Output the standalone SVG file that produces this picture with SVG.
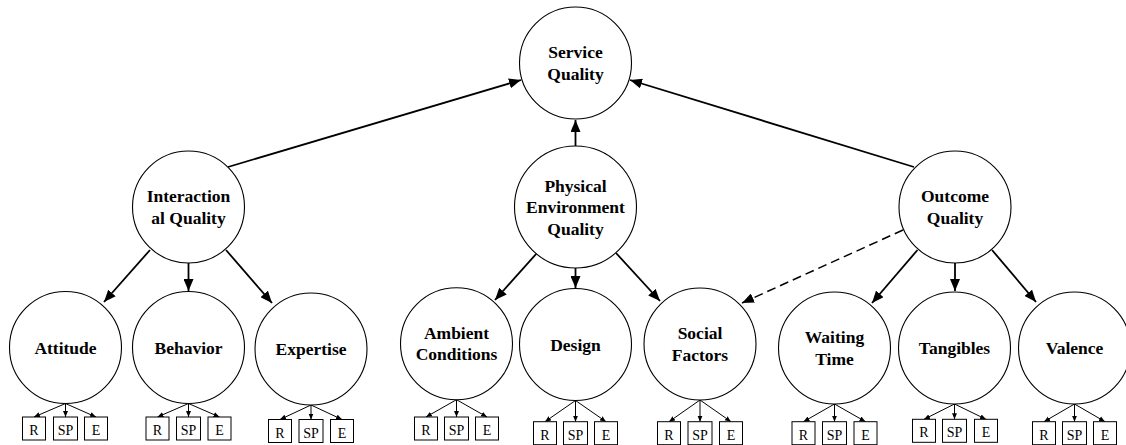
<svg xmlns="http://www.w3.org/2000/svg" width="1126" height="445" viewBox="0 0 1126 445">
<style>
.c{fill:#fff;stroke:#000;stroke-width:1.1}
.b{fill:#fff;stroke:#000;stroke-width:1}
.t{font-family:"Liberation Serif","Times New Roman",serif;font-weight:bold;font-size:17.5px;text-anchor:middle;fill:#000}
.s{font-family:"Liberation Serif","Times New Roman",serif;font-size:14px;text-anchor:middle;fill:#000}
.a{stroke:#000;stroke-width:1.8;fill:none;marker-end:url(#ah)}
.d{stroke:#000;stroke-width:1.5;fill:none;stroke-dasharray:9,5;marker-end:url(#ah)}
.m{stroke:#000;stroke-width:1;fill:none;marker-end:url(#sh)}
</style>
<defs>
<marker id="ah" markerUnits="userSpaceOnUse" markerWidth="13" markerHeight="10" refX="12" refY="5" orient="auto"><path d="M0,0 L12,5 L0,10 z" fill="#000"/></marker>
<marker id="sh" markerUnits="userSpaceOnUse" markerWidth="7" markerHeight="6" refX="6" refY="3" orient="auto"><path d="M0,0.5 L6,3 L0,5.5 z" fill="#000"/></marker>
</defs>
<rect width="1126" height="445" fill="#fff"/>
<g id="connectors">
<line class="a" x1="228" y1="167" x2="521" y2="80"/>
<line class="a" x1="575.5" y1="146" x2="575.5" y2="120"/>
<line class="a" x1="914" y1="167" x2="630" y2="80"/>
<line class="a" x1="150" y1="250" x2="104" y2="302"/>
<line class="a" x1="188.5" y1="263" x2="188.5" y2="291"/>
<line class="a" x1="226" y1="250" x2="272" y2="303"/>
<line class="a" x1="537" y1="253" x2="495" y2="300"/>
<line class="a" x1="575.5" y1="268" x2="575.5" y2="288"/>
<line class="a" x1="616" y1="253" x2="660" y2="301"/>
<line class="d" x1="903" y1="230" x2="742" y2="303"/>
<line class="a" x1="917.5" y1="250" x2="872" y2="303"/>
<line class="a" x1="955" y1="263" x2="955" y2="291"/>
<line class="a" x1="992" y1="250" x2="1036" y2="302"/>
<!-- small arrows -->
<path class="m" d="M65.5,403.5 L34,417"/><path class="m" d="M65.5,403.5 L65.5,417"/><path class="m" d="M65.5,403.5 L96,417"/>
<path class="m" d="M188.5,403.5 L157.5,417"/><path class="m" d="M188.5,403.5 L188.5,417"/><path class="m" d="M188.5,403.5 L219.5,417"/>
<path class="m" d="M311,405 L280,419.5"/><path class="m" d="M311,405 L311,419.5"/><path class="m" d="M311,405 L342,419.5"/>
<path class="m" d="M456.5,399.7 L426,417"/><path class="m" d="M456.5,399.7 L456.5,417"/><path class="m" d="M456.5,399.7 L487,417"/>
<path class="m" d="M575.5,400.5 L545,421.7"/><path class="m" d="M575.5,400.5 L575.5,421.7"/><path class="m" d="M575.5,400.5 L606,421.7"/>
<path class="m" d="M700,400 L669,421.7"/><path class="m" d="M700,400 L700,421.7"/><path class="m" d="M700,400 L731,421.7"/>
<path class="m" d="M834.5,404 L803.5,421.7"/><path class="m" d="M834.5,404 L834.5,421.7"/><path class="m" d="M834.5,404 L865.5,421.7"/>
<path class="m" d="M954.5,404 L924,419.3"/><path class="m" d="M954.5,404 L954.5,419.3"/><path class="m" d="M954.5,404 L986,419.3"/>
<path class="m" d="M1074.5,404 L1044,421.7"/><path class="m" d="M1074.5,404 L1074.5,421.7"/><path class="m" d="M1074.5,404 L1105,421.7"/>
</g>
<g id="service-quality"><circle class="c" cx="575.5" cy="63" r="56"/><text class="t" x="575.5" y="58">Service</text><text class="t" x="575.5" y="79.5">Quality</text></g>
<g id="interactional-quality"><circle class="c" cx="188.5" cy="207" r="56"/><text class="t" x="188.5" y="202">Interaction</text><text class="t" x="188.5" y="223.5">al Quality</text></g>
<g id="physical-environment-quality"><circle class="c" cx="575.5" cy="207" r="61"/><text class="t" x="575.5" y="191.5">Physical</text><text class="t" x="575.5" y="213">Environment</text><text class="t" x="575.5" y="234.5">Quality</text></g>
<g id="outcome-quality"><circle class="c" cx="955" cy="207" r="56"/><text class="t" x="955" y="202">Outcome</text><text class="t" x="955" y="223.5">Quality</text></g>
<g id="attitude"><circle class="c" cx="65.5" cy="347.5" r="56"/><text class="t" x="65.5" y="353.5">Attitude</text>
<rect class="b" x="22.5" y="417" width="23" height="23"/><rect class="b" x="53.5" y="417" width="24" height="23"/><rect class="b" x="84.5" y="417" width="23" height="23"/>
<text class="s" x="34" y="435">R</text><text class="s" x="65.5" y="435">SP</text><text class="s" x="96" y="435">E</text></g>
<g id="behavior"><circle class="c" cx="188.5" cy="347.5" r="56"/><text class="t" x="188.5" y="353.5">Behavior</text>
<rect class="b" x="146" y="417" width="23" height="23"/><rect class="b" x="176.5" y="417" width="24" height="23"/><rect class="b" x="208" y="417" width="23" height="23"/>
<text class="s" x="157.5" y="435">R</text><text class="s" x="188.5" y="435">SP</text><text class="s" x="219.5" y="435">E</text></g>
<g id="expertise"><circle class="c" cx="311" cy="349" r="56"/><text class="t" x="311" y="355">Expertise</text>
<rect class="b" x="268.5" y="419.5" width="23" height="23"/><rect class="b" x="299" y="419.5" width="24" height="23"/><rect class="b" x="330.5" y="419.5" width="23" height="23"/>
<text class="s" x="280" y="437.5">R</text><text class="s" x="311" y="437.5">SP</text><text class="s" x="342" y="437.5">E</text></g>
<g id="ambient-conditions"><circle class="c" cx="456.5" cy="343.7" r="56"/><text class="t" x="456.5" y="338.7">Ambient</text><text class="t" x="456.5" y="360.2">Conditions</text>
<rect class="b" x="414.5" y="417" width="23" height="23"/><rect class="b" x="444.5" y="417" width="24" height="23"/><rect class="b" x="475.5" y="417" width="23" height="23"/>
<text class="s" x="426" y="435">R</text><text class="s" x="456.5" y="435">SP</text><text class="s" x="487" y="435">E</text></g>
<g id="design"><circle class="c" cx="575.5" cy="344.5" r="56"/><text class="t" x="575.5" y="350.5">Design</text>
<rect class="b" x="533.5" y="421.7" width="23" height="23"/><rect class="b" x="563.5" y="421.7" width="24" height="23"/><rect class="b" x="594.5" y="421.7" width="23" height="23"/>
<text class="s" x="545" y="439.7">R</text><text class="s" x="575.5" y="439.7">SP</text><text class="s" x="606" y="439.7">E</text></g>
<g id="social-factors"><circle class="c" cx="700" cy="344" r="56"/><text class="t" x="700" y="339">Social</text><text class="t" x="700" y="360.5">Factors</text>
<rect class="b" x="657.5" y="421.7" width="23" height="23"/><rect class="b" x="688" y="421.7" width="24" height="23"/><rect class="b" x="719.5" y="421.7" width="23" height="23"/>
<text class="s" x="669" y="439.7">R</text><text class="s" x="700" y="439.7">SP</text><text class="s" x="731" y="439.7">E</text></g>
<g id="waiting-time"><circle class="c" cx="834.5" cy="348" r="56"/><text class="t" x="834.5" y="343">Waiting</text><text class="t" x="834.5" y="364.5">Time</text>
<rect class="b" x="792" y="421.7" width="23" height="23"/><rect class="b" x="822.5" y="421.7" width="24" height="23"/><rect class="b" x="854" y="421.7" width="23" height="23"/>
<text class="s" x="803.5" y="439.7">R</text><text class="s" x="834.5" y="439.7">SP</text><text class="s" x="865.5" y="439.7">E</text></g>
<g id="tangibles"><circle class="c" cx="954.5" cy="348" r="56"/><text class="t" x="954.5" y="354">Tangibles</text>
<rect class="b" x="912.5" y="419.3" width="23" height="23"/><rect class="b" x="942.5" y="419.3" width="24" height="23"/><rect class="b" x="974.5" y="419.3" width="23" height="23"/>
<text class="s" x="924" y="437.3">R</text><text class="s" x="954.5" y="437.3">SP</text><text class="s" x="986" y="437.3">E</text></g>
<g id="valence"><circle class="c" cx="1074.5" cy="348" r="56"/><text class="t" x="1074.5" y="354">Valence</text>
<rect class="b" x="1032.5" y="421.7" width="23" height="23"/><rect class="b" x="1062.5" y="421.7" width="24" height="23"/><rect class="b" x="1093.5" y="421.7" width="23" height="23"/>
<text class="s" x="1044" y="439.7">R</text><text class="s" x="1074.5" y="439.7">SP</text><text class="s" x="1105" y="439.7">E</text></g>
</svg>
